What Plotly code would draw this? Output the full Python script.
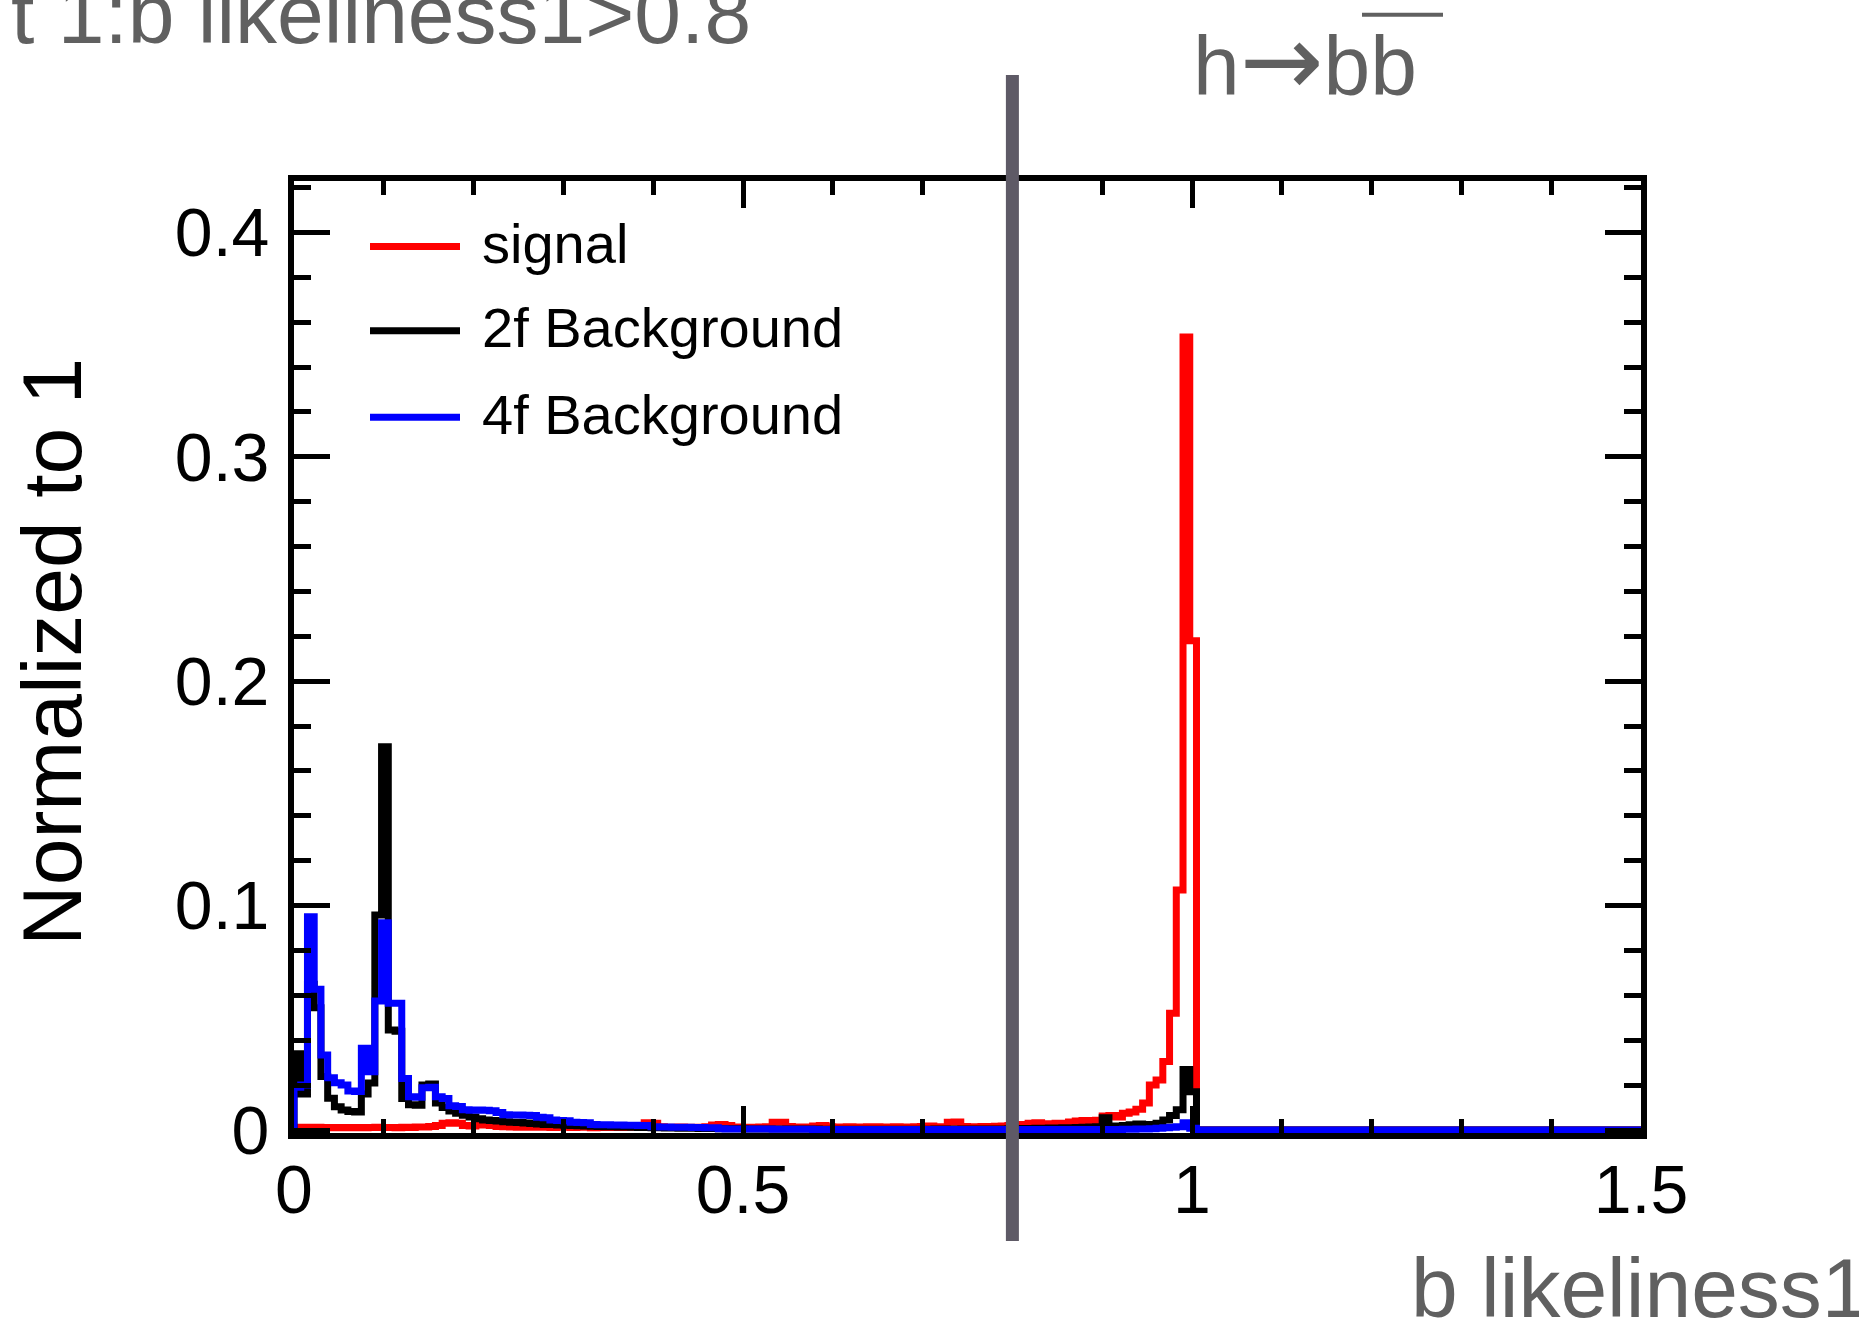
import numpy as np
import plotly.graph_objects as go

# ---------------- data ----------------
x_range = [0.0, 1.5]
n_bins = 200

signal = [
    0.0012, 0.0012, 0.0010, 0.0012, 0.0010, 0.0011, 0.0010, 0.0011, 0.0010, 0.0011,
    0.0010, 0.0011, 0.0012, 0.0011, 0.0011, 0.0010, 0.0012, 0.0011, 0.0013, 0.0013,
    0.0016, 0.0020, 0.0030, 0.0032, 0.0030, 0.0020, 0.0018, 0.0022, 0.0024, 0.0020,
    0.0016, 0.0014, 0.0013, 0.0012, 0.0014, 0.0012, 0.0013, 0.0012, 0.0011, 0.0013,
    0.0012, 0.0011, 0.0013, 0.0012, 0.0010, 0.0012, 0.0011, 0.0013, 0.0011, 0.0012,
    0.0014, 0.0020, 0.0032, 0.0030, 0.0015, 0.0012, 0.0011, 0.0013, 0.0012, 0.0011,
    0.0012, 0.0014, 0.0022, 0.0024, 0.0020, 0.0013, 0.0012, 0.0011, 0.0012, 0.0013,
    0.0015, 0.0034, 0.0035, 0.0016, 0.0012, 0.0013, 0.0012, 0.0018, 0.0020, 0.0014,
    0.0013, 0.0012, 0.0014, 0.0013, 0.0012, 0.0014, 0.0015, 0.0013, 0.0012, 0.0014,
    0.0013, 0.0012, 0.0014, 0.0016, 0.0018, 0.0015, 0.0013, 0.0034, 0.0036, 0.0016,
    0.0014, 0.0015, 0.0016, 0.0014, 0.0017, 0.0018, 0.0020, 0.0024, 0.0022, 0.0030,
    0.0032, 0.0028, 0.0026, 0.0030, 0.0024, 0.0036, 0.0040, 0.0042, 0.0038, 0.0044,
    0.0062, 0.0065, 0.0058, 0.0075, 0.0080, 0.0092, 0.0120, 0.0200, 0.0223, 0.0305,
    0.0520, 0.1070, 0.3534, 0.2180, 0.0, 0.0, 0.0, 0.0, 0.0, 0.0,
    0.0, 0.0, 0.0, 0.0, 0.0, 0.0, 0.0, 0.0, 0.0, 0.0,
    0.0, 0.0, 0.0, 0.0, 0.0, 0.0, 0.0, 0.0, 0.0, 0.0,
    0.0, 0.0, 0.0, 0.0, 0.0, 0.0, 0.0, 0.0, 0.0, 0.0,
    0.0, 0.0, 0.0, 0.0, 0.0, 0.0, 0.0, 0.0, 0.0, 0.0,
    0.0, 0.0, 0.0, 0.0, 0.0, 0.0, 0.0, 0.0, 0.0, 0.0,
    0.0, 0.0, 0.0, 0.0, 0.0, 0.0, 0.0, 0.0, 0.0, 0.0,
]

bkg_2f = [
    0.0340, 0.0160, 0.0650, 0.0545, 0.0238, 0.0141, 0.0104, 0.0089, 0.0082, 0.0080,
    0.0160, 0.0210, 0.0958, 0.1708, 0.0446, 0.0440, 0.0140, 0.0112, 0.0110, 0.0200,
    0.0205, 0.0120, 0.0100, 0.0085, 0.0075, 0.0066, 0.0058, 0.0050, 0.0045, 0.0042,
    0.0040, 0.0037, 0.0035, 0.0033, 0.0031, 0.0029, 0.0027, 0.0025, 0.0024, 0.0022,
    0.0021, 0.0020, 0.0019, 0.0018, 0.0017, 0.0016, 0.0015, 0.0014, 0.0013, 0.0013,
    0.0012, 0.0011, 0.0011, 0.0010, 0.0010, 0.0009, 0.0009, 0.0008, 0.0008, 0.0008,
    0.0007, 0.0007, 0.0007, 0.0006, 0.0006, 0.0006, 0.0006, 0.0005, 0.0005, 0.0005,
    0.0005, 0.0005, 0.0004, 0.0004, 0.0004, 0.0004, 0.0004, 0.0004, 0.0003, 0.0003,
    0.0003, 0.0003, 0.0003, 0.0003, 0.0003, 0.0003, 0.0003, 0.0003, 0.0003, 0.0003,
    0.0003, 0.0003, 0.0003, 0.0003, 0.0003, 0.0004, 0.0004, 0.0004, 0.0004, 0.0004,
    0.0004, 0.0004, 0.0005, 0.0005, 0.0005, 0.0005, 0.0006, 0.0006, 0.0007, 0.0007,
    0.0008, 0.0008, 0.0009, 0.0009, 0.0010, 0.0010, 0.0011, 0.0012, 0.0013, 0.0014,
    0.0055, 0.0016, 0.0018, 0.0020, 0.0023, 0.0027, 0.0020, 0.0025, 0.0030, 0.0045,
    0.0065, 0.0090, 0.0270, 0.0170, 0.0, 0.0, 0.0, 0.0, 0.0, 0.0,
    0.0, 0.0, 0.0, 0.0, 0.0, 0.0, 0.0, 0.0, 0.0, 0.0,
    0.0, 0.0, 0.0, 0.0, 0.0, 0.0, 0.0, 0.0, 0.0, 0.0,
    0.0, 0.0, 0.0, 0.0, 0.0, 0.0, 0.0, 0.0, 0.0, 0.0,
    0.0, 0.0, 0.0, 0.0, 0.0, 0.0, 0.0, 0.0, 0.0, 0.0,
    0.0, 0.0, 0.0, 0.0, 0.0, 0.0, 0.0, 0.0, 0.0, 0.0,
    0.0, 0.0, 0.0, 0.0, 0.0, 0.0, 0.0, 0.0, 0.0, 0.0,
]

bkg_4f = [
    0.0190, 0.0200, 0.0950, 0.0627, 0.0334, 0.0233, 0.0211, 0.0200, 0.0174, 0.0172,
    0.0364, 0.0260, 0.0575, 0.0924, 0.0565, 0.0565, 0.0230, 0.0148, 0.0146, 0.0188,
    0.0190, 0.0148, 0.0140, 0.0108, 0.0105, 0.0090, 0.0088, 0.0089, 0.0088, 0.0086,
    0.0078, 0.0068, 0.0067, 0.0067, 0.0066, 0.0065, 0.0057, 0.0055, 0.0045, 0.0042,
    0.0041, 0.0034, 0.0033, 0.0032, 0.0024, 0.0023, 0.0023, 0.0022, 0.0022, 0.0021,
    0.0021, 0.0020, 0.0020, 0.0014, 0.0013, 0.0013, 0.0012, 0.0012, 0.0012, 0.0011,
    0.0011, 0.0010, 0.0010, 0.0006, 0.0005, 0.0005, 0.0005, 0.0004, 0.0004, 0.0004,
    0.0004, 0.0003, 0.0003, 0.0003, 0.0003, 0.0003, 0.0003, 0.0002, 0.0002, 0.0002,
    0.0002, 0.0002, 0.0002, 0.0002, 0.0002, 0.0002, 0.0002, 0.0002, 0.0002, 0.0002,
    0.0002, 0.0002, 0.0002, 0.0002, 0.0002, 0.0002, 0.0002, 0.0002, 0.0002, 0.0002,
    0.0002, 0.0002, 0.0002, 0.0002, 0.0002, 0.0002, 0.0002, 0.0002, 0.0002, 0.0002,
    0.0002, 0.0002, 0.0002, 0.0002, 0.0002, 0.0002, 0.0002, 0.0002, 0.0002, 0.0002,
    0.0002, 0.0002, 0.0002, 0.0003, 0.0003, 0.0004, 0.0005, 0.0006, 0.0008, 0.0010,
    0.0012, 0.0015, 0.0032, 0.0008, 0.0, 0.0, 0.0, 0.0, 0.0, 0.0,
    0.0, 0.0, 0.0, 0.0, 0.0, 0.0, 0.0, 0.0, 0.0, 0.0,
    0.0, 0.0, 0.0, 0.0, 0.0, 0.0, 0.0, 0.0, 0.0, 0.0,
    0.0, 0.0, 0.0, 0.0, 0.0, 0.0, 0.0, 0.0, 0.0, 0.0,
    0.0, 0.0, 0.0, 0.0, 0.0, 0.0, 0.0, 0.0, 0.0, 0.0,
    0.0, 0.0, 0.0, 0.0, 0.0, 0.0, 0.0, 0.0, 0.0, 0.0,
    0.0, 0.0, 0.0, 0.0, 0.0, 0.0, 0.0, 0.0, 0.0, 0.0,
]

series_names = ["signal", "2f Background", "4f Background"]
series_colors = ["#ff0000", "#000000", "#0000ff"]

x_tickvals = [0, 0.5, 1, 1.5]
x_ticktext = ["0", "0.5", "1", "1.5"]
y_tickvals = [0, 0.1, 0.2, 0.3, 0.4]
y_ticktext = ["0", "0.1", "0.2", "0.3", "0.4"]

cut_value = 0.8
title_text = "t 1:b likeliness1>0.8"
channel_text = ("h<span style='font-family:DejaVu Sans;font-size:100px'>\u2192</span>bb")
x_title = "b likeliness1"
y_title = "Normalized to 1"

# ---------------- layout constants ----------------
W, H = 1859, 1323
ML, MR, MT, MB = 294, 218, 181, 190
PW, PH = W - ML - MR, H - MT - MB
PX_PER_UNIT = 2244.0
Y_MIN = -3.0 / PX_PER_UNIT
Y_MAX = Y_MIN + PH / PX_PER_UNIT
FONT = "Liberation Sans, Arial, Helvetica, sans-serif"
GREY = "#606060"
LW = 7


def px(xp):
    """page pixel x -> paper x (plot-area relative)"""
    return (xp - ML) / PW


def py(yp):
    """page pixel y -> paper y (plot-area relative)"""
    return (H - MB - yp) / PH


edges = np.linspace(x_range[0], x_range[1], n_bins + 1)


def outline(vals):
    xs = [edges[0]] + list(edges)
    ys = [0.0] + list(vals) + [0.0]
    return xs, ys


fig = go.Figure()
for vals, name, col in zip([signal, bkg_2f, bkg_4f], series_names, series_colors):
    xs, ys = outline(vals)
    fig.add_trace(go.Scatter(x=xs, y=ys, mode="lines", name=name,
                             line=dict(color=col, width=LW, shape="hv"),
                             showlegend=False))

axis_common = dict(
    showline=True, linecolor="black", linewidth=6, mirror="allticks",
    ticks="inside", tickcolor="black", tickwidth=5,
    showgrid=False, zeroline=False,
    tickfont=dict(family=FONT, size=68, color="black"),
)

fig.update_xaxes(range=x_range, tickmode="array", tickvals=x_tickvals,
                 ticktext=x_ticktext, ticklen=27, ticklabelstandoff=-8,
                 minor=dict(tickmode="linear", tick0=0, dtick=0.1, ticklen=14,
                            tickwidth=5, tickcolor="black", ticks="inside",
                            showgrid=False),
                 **axis_common)
fig.update_yaxes(range=[Y_MIN, Y_MAX], tickmode="array", tickvals=y_tickvals,
                 ticktext=y_ticktext, ticklen=36, ticklabelstandoff=5,
                 minor=dict(tickmode="linear", tick0=0, dtick=0.02, ticklen=17,
                            tickwidth=5, tickcolor="black", ticks="inside",
                            showgrid=False),
                 **axis_common)

shapes = [
    # cut line
    dict(type="line", xref="x", yref="paper", x0=cut_value, x1=cut_value,
         y0=py(1241), y1=py(75), line=dict(color="#5e5a66", width=13), layer="above"),
    # overline of b-bar
    dict(type="line", xref="paper", yref="paper", x0=px(1362), x1=px(1443),
         y0=py(14.7), y1=py(14.7), line=dict(color=GREY, width=4)),
]
legend_line_y = [246.6, 330.8, 417.3]
for col, ly in zip(series_colors, legend_line_y):
    shapes.append(dict(type="line", xref="paper", yref="paper", x0=px(370), x1=px(460),
                       y0=py(ly), y1=py(ly), line=dict(color=col, width=7)))

annotations = [
    dict(text=title_text, x=px(753), y=py(13.6), xanchor="right", yanchor="middle",
         font=dict(family=FONT, size=84, color=GREY)),
    dict(text=channel_text, x=px(1191), y=py(60.2), xanchor="left", yanchor="middle",
         font=dict(family=FONT, size=84, color=GREY)),
    dict(text=x_title, x=px(1871), y=py(1287.6), xanchor="right", yanchor="middle",
         font=dict(family=FONT, size=84, color=GREY)),
    dict(text=y_title, x=px(52), y=py(652), xanchor="center", yanchor="middle",
         textangle=-90, font=dict(family=FONT, size=84, color="black")),
]
for name, ly in zip(series_names, legend_line_y):
    annotations.append(dict(text=name, x=px(480), y=py(ly - 3), xanchor="left",
                            yanchor="middle", font=dict(family=FONT, size=56, color="black")))
for a in annotations:
    a.update(xref="paper", yref="paper", showarrow=False)

fig.update_layout(
    width=W, height=H, autosize=False,
    margin=dict(l=ML, r=MR, t=MT, b=MB, pad=0),
    paper_bgcolor="white", plot_bgcolor="white",
    showlegend=False, shapes=shapes, annotations=annotations,
)

fig.write_html("out.html", config={"displayModeBar": False},
               post_script="document.body.style.margin='0px';")
